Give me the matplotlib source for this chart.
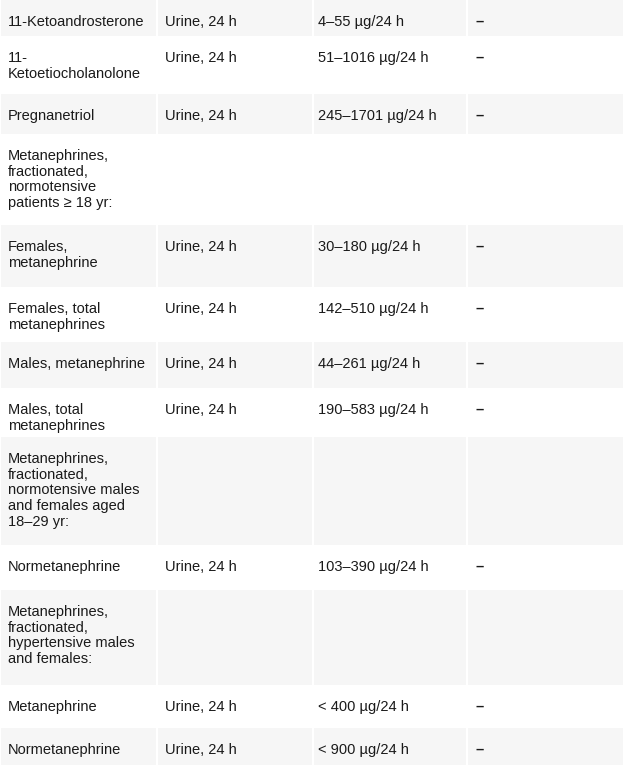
import matplotlib.pyplot as plt
from matplotlib.patches import Rectangle

analytes = ["11-Ketoandrosterone", "11-\nKetoetiocholanolone", "Pregnanetriol",
            "Metanephrines,\nfractionated,\nnormotensive\npatients \u2265 18 yr:",
            "Females,\nmetanephrine", "Females, total\nmetanephrines",
            "Males, metanephrine", "Males, total\nmetanephrines",
            "Metanephrines,\nfractionated,\nnormotensive males\nand females aged\n18\u201329 yr:",
            "Normetanephrine",
            "Metanephrines,\nfractionated,\nhypertensive males\nand females:",
            "Metanephrine", "Normetanephrine"]
specimens = ["Urine, 24 h", "Urine, 24 h", "Urine, 24 h", "", "Urine, 24 h", "Urine, 24 h",
             "Urine, 24 h", "Urine, 24 h", "", "Urine, 24 h", "", "Urine, 24 h", "Urine, 24 h"]
ranges = ["4\u201355 \u00b5g/24 h", "51\u20131016 \u00b5g/24 h", "245\u20131701 \u00b5g/24 h", "",
          "30\u2013180 \u00b5g/24 h", "142\u2013510 \u00b5g/24 h", "44\u2013261 \u00b5g/24 h",
          "190\u2013583 \u00b5g/24 h", "", "103\u2013390 \u00b5g/24 h", "",
          "< 400 \u00b5g/24 h", "< 900 \u00b5g/24 h"]
si = ["\u2013", "\u2013", "\u2013", "", "\u2013", "\u2013", "\u2013", "\u2013", "", "\u2013", "",
      "\u2013", "\u2013"]

# row boundaries (pixels)
edges = [0, 36, 94, 134, 225, 287, 342, 388, 437, 545, 590, 685, 728, 765]
col_x = [8, 165, 318, 476]
col_edges = [0, 157, 313, 467, 624]

fig = plt.figure(figsize=(6.24, 7.79), dpi=100)
ax = fig.add_axes([0, 0, 1, 1])
ax.set_xlim(0, 624)
ax.set_ylim(779, 0)
ax.axis("off")

for i in range(len(analytes)):
    top, bot = edges[i], edges[i + 1]
    if i % 2 == 0:
        for c in range(4):
            ax.add_patch(Rectangle((col_edges[c] + 1, top), col_edges[c + 1] - col_edges[c] - 2,
                                   bot - top, color="#f6f6f6", lw=0))
    for c, (x, txt) in enumerate(zip(col_x, [analytes[i], specimens[i], ranges[i], si[i]])):
        ax.text(x, top + 15, txt, fontsize=10.5, family="Liberation Sans", va="top",
                ha="left", color="#1a1a1a", linespacing=1.15,
                fontweight="bold" if c == 3 else "normal")

fig.savefig("out.png", dpi=100)
